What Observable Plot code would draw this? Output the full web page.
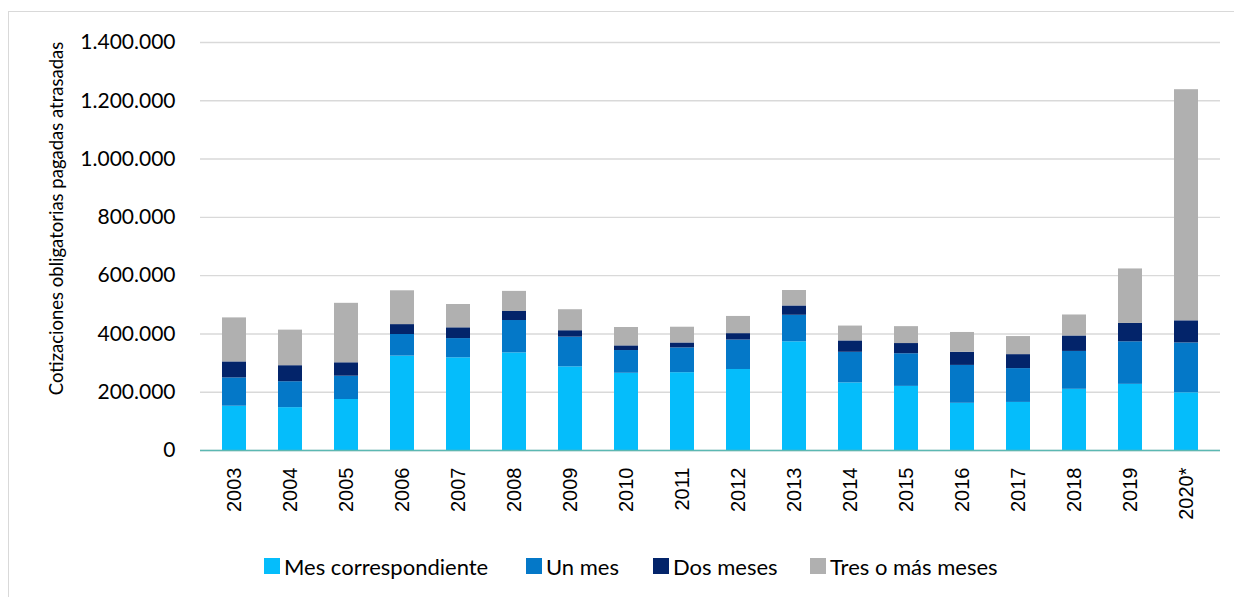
<!DOCTYPE html>
<html><head><meta charset="utf-8">
<script src="https://cdn.jsdelivr.net/npm/d3@7"></script>
<script src="https://cdn.jsdelivr.net/npm/@observablehq/plot@0.6"></script>
<style>
body{margin:0;background:#fff;}
#wrap{position:relative;width:1234px;height:597px;overflow:hidden;font-family:Lato,sans-serif;background:#fff;}
#frame{position:absolute;left:8px;top:11px;width:1260px;height:620px;border-left:1.5px solid #d9d9d9;border-top:1.5px solid #d9d9d9;}
#chart{position:absolute;left:0;top:0;}
#legend{position:absolute;top:552px;left:0;width:1234px;height:28px;}
.item{position:absolute;top:0;height:28px;display:flex;align-items:center;font-size:22px;color:#000;white-space:nowrap;}
.sw{width:16px;height:16px;margin-right:4px;}
</style></head>
<body>
<div id="wrap"><div id="frame"></div><div id="chart"></div><div id="legend"></div></div>
<script>
const years = ["2003","2004","2005","2006","2007","2008","2009","2010","2011","2012","2013","2014","2015","2016","2017","2018","2019","2020*"];
const series = ["Mes correspondiente","Un mes","Dos meses","Tres o más meses"];
const colors = ["#05bdfb","#0478c8","#03246a","#b0b0b0"];
const mesCorrespondiente = [152000,147000,175000,324000,318000,335000,287000,265000,267000,278000,373000,232000,220000,162000,165000,210000,227000,198000];
const unMes = [97000,89000,80000,74000,66000,111000,102000,78000,85000,101000,91000,105000,112000,130000,116000,130000,146000,171000];
const dosMeses = [55000,55000,46000,34000,37000,31000,22000,16000,17000,22000,32000,39000,35000,45000,48000,53000,63000,76000];
const tresOMas = [151000,122000,204000,116000,80000,69000,72000,63000,54000,59000,53000,51000,58000,68000,62000,72000,187000,793000];
const yTicks = [0,200000,400000,600000,800000,1000000,1200000,1400000];
const yTitle = "Cotizaciones obligatorias pagadas atrasadas";
const legendX = [264,526,653,810];

const values = [mesCorrespondiente, unMes, dosMeses, tresOMas];
const data = [];
years.forEach((yr,i) => series.forEach((s,j) => data.push({year: yr, serie: s, value: values[j][i]})));

const fmt = d3.formatLocale({decimal:",", thousands:".", grouping:[3], currency:["",""]}).format(",");

const chart = Plot.plot({
  width: 1234, height: 540,
  marginLeft: 200, marginRight: 14, marginTop: 42, marginBottom: 90,
  x: {domain: years, paddingInner: 0.58, paddingOuter: 0.29, label: null},
  y: {domain: [0, 1400000], label: null},
  color: {domain: series, range: colors},
  style: {fontFamily: "Lato, sans-serif", background: "transparent", color: "#000"},
  marks: [
    Plot.gridY(yTicks, {stroke: "#d9d9d9", strokeOpacity: 1, strokeWidth: 1.4}),
    Plot.barY(data, Plot.stackY({x: "year", y: "value", fill: "serie", order: series})),
    Plot.ruleY([0], {stroke: "#5cb8b2", strokeWidth: 1.6}),
    Plot.axisY(yTicks, {tickFormat: fmt, tickSize: 0, tickPadding: 25, fontSize: 21, label: null}),
    Plot.axisX({tickRotate: -90, tickSize: 0, tickPadding: 17, fontSize: 20, fontFamily: "Liberation Sans, Arial, sans-serif", label: null}),
    Plot.text([yTitle], {frameAnchor: "left", textAnchor: "middle", rotate: -90, dx: -143, dy: -28, fontSize: 18.5, fill: "#000", text: d => d})
  ]
});
document.getElementById("chart").appendChild(chart);

const legend = document.getElementById("legend");
series.forEach((s,i) => {
  const it = document.createElement("div");
  it.className = "item";
  it.style.left = legendX[i] + "px";
  const sw = document.createElement("span");
  sw.className = "sw";
  sw.style.background = colors[i];
  const tx = document.createElement("span");
  tx.textContent = s;
  it.appendChild(sw); it.appendChild(tx);
  legend.appendChild(it);
});
</script>
</body></html>
